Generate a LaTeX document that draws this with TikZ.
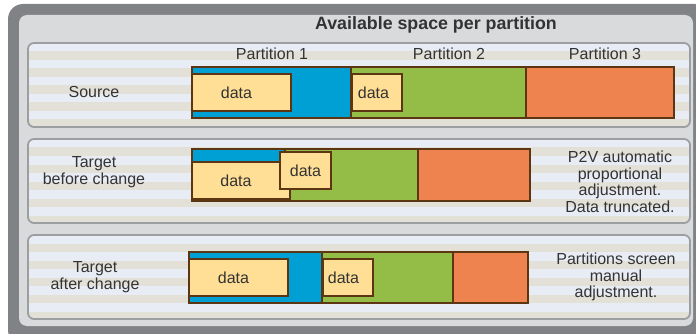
\documentclass[tikz,border=0pt]{standalone}
\usepackage{fontspec}
\setmainfont{Liberation Sans}
\usetikzlibrary{positioning}

\definecolor{framegray}{HTML}{808285}
\definecolor{innergray}{HTML}{D9DADC}
\definecolor{panelline}{HTML}{9C9EA1}
\definecolor{stripelight}{HTML}{E8ECF4}
\definecolor{stripedark}{HTML}{E3E0D8}
\definecolor{edgebrown}{HTML}{5C3612}
\definecolor{pblue}{HTML}{009FD4}
\definecolor{pgreen}{HTML}{93BD47}
\definecolor{porange}{HTML}{EE8350}
\definecolor{pdata}{HTML}{FFDF96}
\definecolor{textgray}{HTML}{333333}

\tikzset{
  bar/.style={draw=edgebrown, line width=1.5pt, inner sep=0pt, outer sep=0pt},
  databox/.style={bar, fill=pdata, anchor=north west, minimum height=37pt,
    font=\fontsize{16}{16.5}\selectfont, text=textgray},
  lbl/.style={font=\fontsize{16}{16.5}\selectfont, text=textgray, align=center},
}

\begin{document}
\begin{tikzpicture}[x=1pt, y=-1pt]
    \useasboundingbox (0,0) rectangle (696,334);
    % frame
    \fill[framegray, rounded corners=15pt] (8,4) rectangle (710,345);
    \fill[innergray, rounded corners=8pt] (19,15) rectangle (693,326);
    \node[font=\bfseries\fontsize{17.8}{20}\selectfont, text=textgray] (title) at (436,25) {Available space per partition};
    % striped panels
    \foreach \t in {43,139,235} {
        \begin{scope}
            \clip[rounded corners=6pt] (28,\t) rectangle (690,\t+84);
            \fill[stripelight] (28,\t) rectangle (690,\t+84);
            \foreach \k in {0,...,4} {\fill[stripedark] (28,\t+8.5+17*\k) rectangle (690,\t+17+17*\k);}
        \end{scope}
        \draw[panelline, line width=1.8pt, rounded corners=6pt] (28,\t) rectangle (690,\t+84);
    }
    % column labels
    \node[lbl] (p1) at (272,54) {Partition 1};
    \node[lbl] (p2) at (449,54) {Partition 2};
    \node[lbl] (p3) at (605,54) {Partition 3};
    % source row
    \node[bar, fill=pblue, anchor=north west, minimum width=159pt, minimum height=51pt] (s1) at (192,67) {};
    \node[bar, fill=pgreen, minimum width=175pt, minimum height=51pt, right=0pt of s1] (s2) {};
    \node[bar, fill=porange, minimum width=148pt, minimum height=51pt, right=0pt of s2] (s3) {};
    \node[databox, minimum width=99pt] (sd1) at (192,74) {\hspace*{-10pt}data};
    \node[databox, minimum width=50pt] (sd2) at (352,74) {\hspace*{-7pt}data};
    \node[lbl] (source) at (94,92) {Source};
    % target before change
    \node[bar, fill=pblue, anchor=north west, minimum width=93pt, minimum height=52pt] (b1) at (192,149) {};
    \node[bar, fill=pgreen, minimum width=133pt, minimum height=52pt, right=0pt of b1] (b2) {};
    \node[bar, fill=porange, minimum width=112pt, minimum height=52pt, right=0pt of b2] (b3) {};
    \node[databox, minimum width=98pt] (bd1) at (192,162) {\hspace*{-10pt}data};
    \node[databox, minimum width=51pt] (bd2) at (280,152) {data};
    \node[lbl] (before) at (94,172) {Target\\before change};
    \node[lbl] (auto) at (620,182) {P2V automatic\\proportional\\adjustment.\\Data truncated.};
    % target after change
    \node[bar, fill=pblue, anchor=north west, minimum width=133pt, minimum height=51pt] (a1) at (189,252) {};
    \node[bar, fill=pgreen, minimum width=131pt, minimum height=51pt, right=0pt of a1] (a2) {};
    \node[bar, fill=porange, minimum width=75pt, minimum height=51pt, right=0pt of a2] (a3) {};
    \node[databox, minimum width=99pt] (ad1) at (189,259) {\hspace*{-10pt}data};
    \node[databox, minimum width=50pt] (ad2) at (323,259) {\hspace*{-9pt}data};
    \node[lbl] (after) at (95,277) {Target\\after change};
    \node[lbl] (manual) at (616,277) {Partitions screen\\manual\\adjustment.};
\end{tikzpicture}
\end{document}
